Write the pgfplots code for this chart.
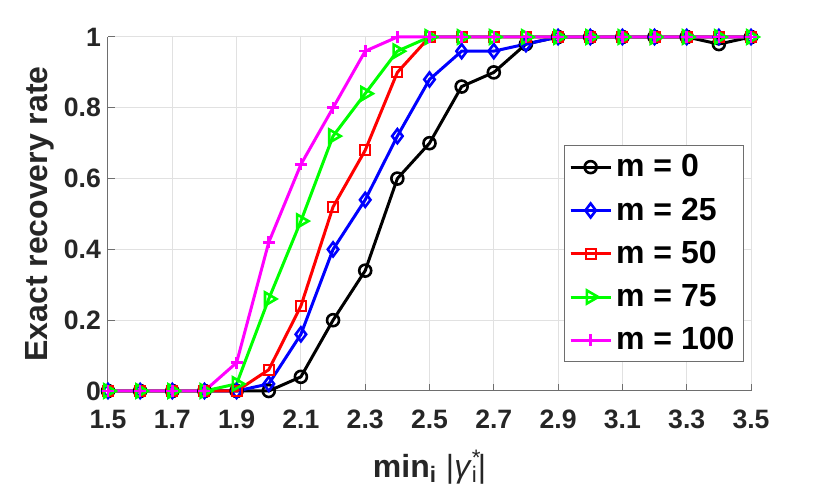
\documentclass[border=0pt]{standalone}
\usepackage{fontspec}
\setmainfont{Liberation Sans}
\usepackage{pgfplots}
\pgfplotsset{compat=1.18}
\definecolor{tickc}{RGB}{38,38,38}
\definecolor{gridc}{RGB}{225,225,225}
\definecolor{axc}{RGB}{110,110,110}
\definecolor{mblue}{RGB}{0,0,255}
\definecolor{mred}{RGB}{255,0,0}
\definecolor{mgreen}{RGB}{0,255,0}
\definecolor{mmag}{RGB}{255,0,255}
\begin{document}
\begin{tikzpicture}
\begin{axis}[
  scale only axis, width=321.5pt, height=177pt,
  xmin=1.5, xmax=3.5, ymin=0, ymax=1,
  xtick={1.5,1.7,...,3.5}, ytick={0,0.2,...,1},
  xticklabels={1.5,1.7,1.9,2.1,2.3,2.5,2.7,2.9,3.1,3.3,3.5},
  yticklabels={0,0.2,0.4,0.6,0.8,1},
  axis x line*=bottom, axis y line*=left,
  axis line style={axc, line width=0.5pt, -},
  tick style={axc, line width=0.5pt},
  tick align=inside, major tick length=3.5pt,
  grid=major, major grid style={gridc, line width=0.5pt},
  /pgf/number format/assume math mode=true,
  tick label style={font=\bfseries\fontsize{13.3}{15}\selectfont, text=tickc},
  xticklabel style={yshift=-6pt},
  yticklabel style={xshift=0pt},
  label style={font=\bfseries\fontsize{16}{19}\selectfont, text=tickc},
  ylabel={Exact recovery rate},
  xlabel={min\textsubscript{i} \mdseries|\textit{γ}\rlap{\textsuperscript{*}}\textsubscript{i}|},
  ylabel style={yshift=-2pt},
  xlabel style={yshift=-3.5pt},
  legend style={at={(0.989,0.695)}, anchor=north east, draw=axc, line width=0.5pt, fill=white,
    font=\bfseries\fontsize{16}{19}\selectfont, row sep=5pt, inner sep=2.5pt},
  legend cell align=left,
  legend image code/.code={\draw[#1] (0pt,0pt) -- (20pt,0pt); \draw[#1,mark repeat=2,mark phase=2] plot coordinates {(0pt,0pt) (10pt,0pt) (20pt,0pt)};},
  every axis plot/.append style={line width=1.5pt},
  clip=false,
]
\addplot[black, mark=o, mark size=3pt, mark options={solid, line width=1.3pt}] coordinates {
(1.5,0)(1.6,0)(1.7,0)(1.8,0)(1.9,0)(2.0,0)(2.1,0.04)(2.2,0.20)(2.3,0.34)(2.4,0.60)(2.5,0.70)
(2.6,0.86)(2.7,0.90)(2.8,0.98)(2.9,1)(3.0,1)(3.1,1)(3.2,1)(3.3,1)(3.4,0.98)(3.5,1)};
\addlegendentry{m = 0}
\addplot[mblue, mark=diamond, mark size=3.5pt, mark options={solid, line width=1.3pt}] coordinates {
(1.5,0)(1.6,0)(1.7,0)(1.8,0)(1.9,0)(2.0,0.02)(2.1,0.16)(2.2,0.40)(2.3,0.54)(2.4,0.72)(2.5,0.88)
(2.6,0.96)(2.7,0.96)(2.8,0.98)(2.9,1)(3.0,1)(3.1,1)(3.2,1)(3.3,1)(3.4,1)(3.5,1)};
\addlegendentry{m = 25}
\addplot[mred, mark=square, mark size=2.5pt, mark options={solid, line width=1pt}] coordinates {
(1.5,0)(1.6,0)(1.7,0)(1.8,0)(1.9,0)(2.0,0.06)(2.1,0.24)(2.2,0.52)(2.3,0.68)(2.4,0.90)(2.5,1)
(2.6,1)(2.7,1)(2.8,1)(2.9,1)(3.0,1)(3.1,1)(3.2,1)(3.3,1)(3.4,1)(3.5,1)};
\addlegendentry{m = 50}
\addplot[mgreen, mark=triangle, mark size=3.8pt, mark options={solid, rotate=-90, line width=1.3pt}] coordinates {
(1.5,0)(1.6,0)(1.7,0)(1.8,0)(1.9,0.02)(2.0,0.26)(2.1,0.48)(2.2,0.72)(2.3,0.84)(2.4,0.96)(2.5,1)
(2.6,1)(2.7,1)(2.8,1)(2.9,1)(3.0,1)(3.1,1)(3.2,1)(3.3,1)(3.4,1)(3.5,1)};
\addlegendentry{m = 75}
\addplot[mmag, mark=+, mark size=3pt, mark options={solid, line width=1.3pt}] coordinates {
(1.5,0)(1.6,0)(1.7,0)(1.8,0)(1.9,0.08)(2.0,0.42)(2.1,0.64)(2.2,0.80)(2.3,0.96)(2.4,1)(2.5,1)
(2.6,1)(2.7,1)(2.8,1)(2.9,1)(3.0,1)(3.1,1)(3.2,1)(3.3,1)(3.4,1)(3.5,1)};
\addlegendentry{m = 100}
\end{axis}
\pgfresetboundingbox
\path[use as bounding box] (-54pt,-53pt) rectangle (361pt,195.5pt);
\end{tikzpicture}
\end{document}
